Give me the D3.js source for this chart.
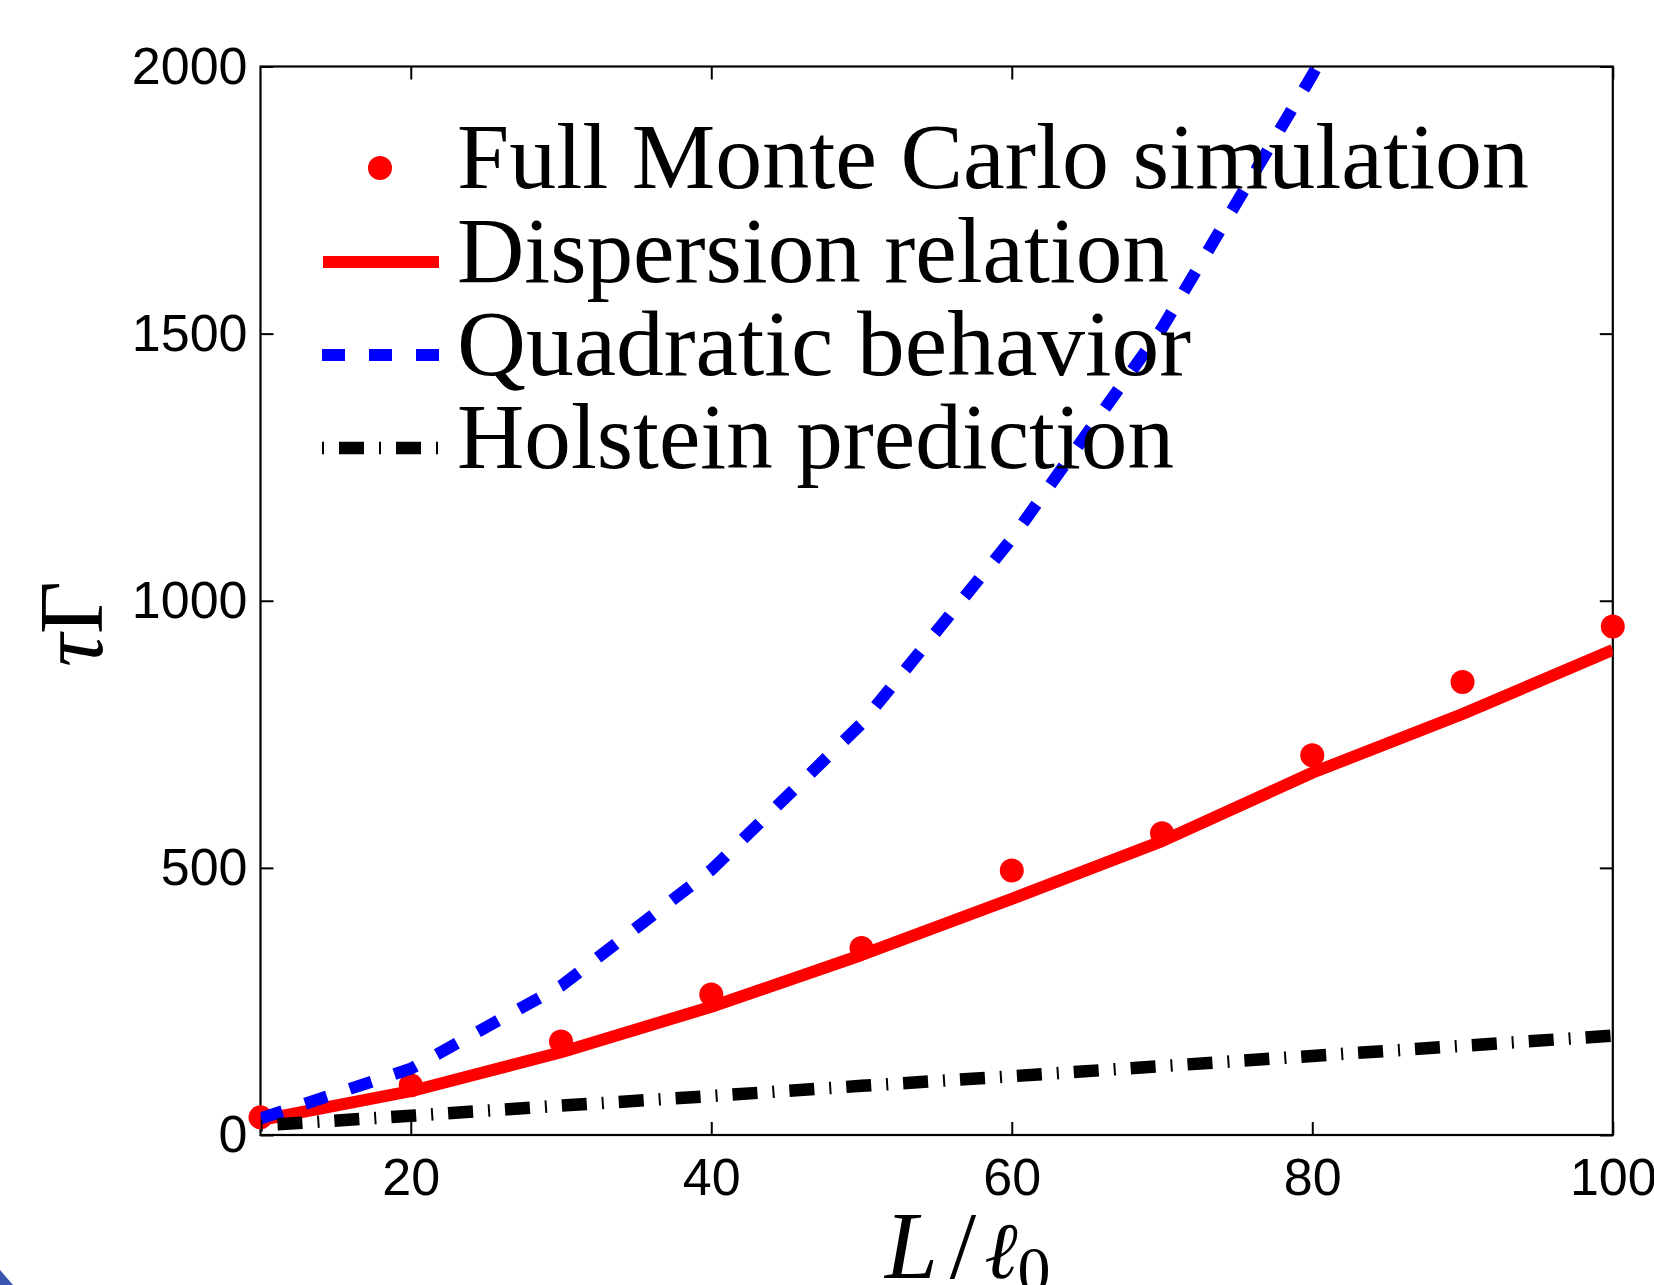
<!DOCTYPE html>
<html>
<head>
<meta charset="utf-8">
<script src="https://cdn.jsdelivr.net/npm/d3@7"></script>
<style>
  body { margin: 0; background: #fff; }
  svg { display: block; }
  .tick text { font-family: 'Liberation Sans', Arial, sans-serif; font-size: 52px; fill: #000; }
  .tick line { stroke: #000; stroke-width: 2; }
</style>
</head>
<body>
<svg id="chart" width="1654" height="1285"></svg>
<script>
// values
var lengths = [10, 20, 30, 40, 50, 60, 70, 80, 90, 100];
var monteCarlo = [33, 93, 175, 263, 350, 495, 565, 711, 848, 952];
var dispersion = [28, 82, 155, 240, 337, 442, 550, 678, 788, 908];
var quadratic = [31, 124, 279, 496, 770, 1116, 1510, 1984, 2511, 3100];
var holstein = [18, 36, 55, 73, 92, 110, 129, 148, 167, 186];

var xTicks = [20, 40, 60, 80, 100];
var yTicks = [0, 500, 1000, 1500, 2000];

var legendLabels = ['Full Monte Carlo simulation', 'Dispersion relation', 'Quadratic behavior', 'Holstein prediction'];
var legendWidths = [1072, 712, 734, 717];

var svg = d3.select('#chart');

var plot = {l: 260.5, r: 1612.8, t: 66.5, b: 1135};

var xScale = d3.scaleLinear().domain([10, 100]).range([plot.l, plot.r]);
var yScale = d3.scaleLinear().domain([0, 2000]).range([plot.b, plot.t]);

// frame
svg.append('rect')
    .attr('x', plot.l)
    .attr('y', plot.t)
    .attr('width', plot.r - plot.l)
    .attr('height', plot.b - plot.t)
    .attr('fill', 'none')
    .attr('stroke', '#000')
    .attr('stroke-width', 2.2);

// axes, ticks pointing inward
var plain = d3.format('d');
var xAxis = d3.axisBottom(xScale).tickValues(xTicks).tickSizeInner(-13).tickSizeOuter(0).tickPadding(23).tickFormat(plain);
var xAxisTop = d3.axisTop(xScale).tickValues(xTicks).tickSizeInner(-13).tickSizeOuter(0).tickFormat('');
var yAxis = d3.axisLeft(yScale).tickValues(yTicks).tickSizeInner(-13).tickSizeOuter(0).tickPadding(13).tickFormat(plain);
var yAxisRight = d3.axisRight(yScale).tickValues(yTicks).tickSizeInner(-13).tickSizeOuter(0).tickFormat('');

svg.append('g').attr('transform', 'translate(0,' + plot.b + ')').call(xAxis);
svg.append('g').attr('transform', 'translate(0,' + plot.t + ')').call(xAxisTop);
svg.append('g').attr('transform', 'translate(' + plot.l + ',0)').call(yAxis);
svg.append('g').attr('transform', 'translate(' + plot.r + ',0)').call(yAxisRight);
svg.selectAll('.domain').remove();

// clip for lines
svg.append('clipPath').attr('id', 'clip')
    .append('rect')
    .attr('x', plot.l).attr('y', plot.t)
    .attr('width', plot.r - plot.l).attr('height', plot.b - plot.t);

function lineFor(values) {
    return d3.line()
        .x(function(d, i) { return xScale(lengths[i]); })
        .y(function(d) { return yScale(d); })(values);
}

// monte carlo points
svg.append('g').selectAll('circle')
    .data(monteCarlo)
    .enter()
    .append('circle')
    .attr('cx', function(d, i) { return xScale(lengths[i]); })
    .attr('cy', function(d) { return yScale(d); })
    .attr('r', 12)
    .attr('fill', '#ff0000');

var lines = svg.append('g').attr('clip-path', 'url(#clip)');

lines.append('path')
    .attr('d', lineFor(dispersion))
    .attr('fill', 'none')
    .attr('stroke', '#ff0000')
    .attr('stroke-width', 12)
    .attr('stroke-linejoin', 'round');

lines.append('path')
    .attr('d', lineFor(quadratic))
    .attr('fill', 'none')
    .attr('stroke', '#0000ff')
    .attr('stroke-width', 12)
    .attr('stroke-dasharray', '23,24');

lines.append('path')
    .attr('d', lineFor(holstein))
    .attr('fill', 'none')
    .attr('stroke', '#000')
    .attr('stroke-width', 12.5)
    .attr('stroke-dasharray', '2,15,25,15');

// legend
var legend = svg.append('g');
var rowY = [168, 262, 355, 448];

legend.append('circle').attr('cx', 380).attr('cy', rowY[0]).attr('r', 12).attr('fill', '#ff0000');
legend.append('line').attr('x1', 323).attr('x2', 439).attr('y1', rowY[1]).attr('y2', rowY[1])
    .attr('stroke', '#ff0000').attr('stroke-width', 12);
legend.append('line').attr('x1', 322).attr('x2', 439).attr('y1', rowY[2]).attr('y2', rowY[2])
    .attr('stroke', '#0000ff').attr('stroke-width', 12).attr('stroke-dasharray', '23,24');
legend.append('line').attr('x1', 322).attr('x2', 439).attr('y1', rowY[3]).attr('y2', rowY[3])
    .attr('stroke', '#000').attr('stroke-width', 12.5).attr('stroke-dasharray', '2,15,25,15');

legend.selectAll('text')
    .data(legendLabels)
    .enter()
    .append('text')
    .attr('x', 457)
    .attr('y', function(d, i) { return rowY[i] + 20; })
    .attr('textLength', function(d, i) { return legendWidths[i]; })
    .attr('lengthAdjust', 'spacingAndGlyphs')
    .style('font-family', "'Liberation Serif', 'Times New Roman', serif")
    .style('font-size', '94px')
    .text(function(d) { return d; });

// x label  L/l0
var xLabel = svg.append('text')
    .attr('x', 885)
    .attr('y', 1278)
    .style('font-family', "'Liberation Serif', 'Times New Roman', serif")
    .style('font-size', '95px');
xLabel.append('tspan').style('font-style', 'italic').text('L');
xLabel.append('tspan').attr('dx', 12).text('/');
xLabel.append('tspan').attr('dx', 8).style('font-style', 'italic').style('font-family', "'DejaVu Serif', serif").style('font-size', '80px').text('\u2113');
xLabel.append('tspan').attr('dy', 14).style('font-size', '66px').text('0');

// y label  tau Gamma
var yLabel = svg.append('text')
    .attr('transform', 'translate(102,624) rotate(-90)')
    .attr('text-anchor', 'middle')
    .style('font-family', "'Liberation Serif', 'Times New Roman', serif")
    .style('font-size', '92px');
yLabel.append('tspan').style('font-style', 'italic').text('\u03c4');
yLabel.append('tspan').text('\u0393');

// corner of the slide background
svg.append('path')
    .attr('d', 'M0,1270 L13,1285 L0,1285 Z')
    .attr('fill', '#3a55ad');
</script>
</body>
</html>
